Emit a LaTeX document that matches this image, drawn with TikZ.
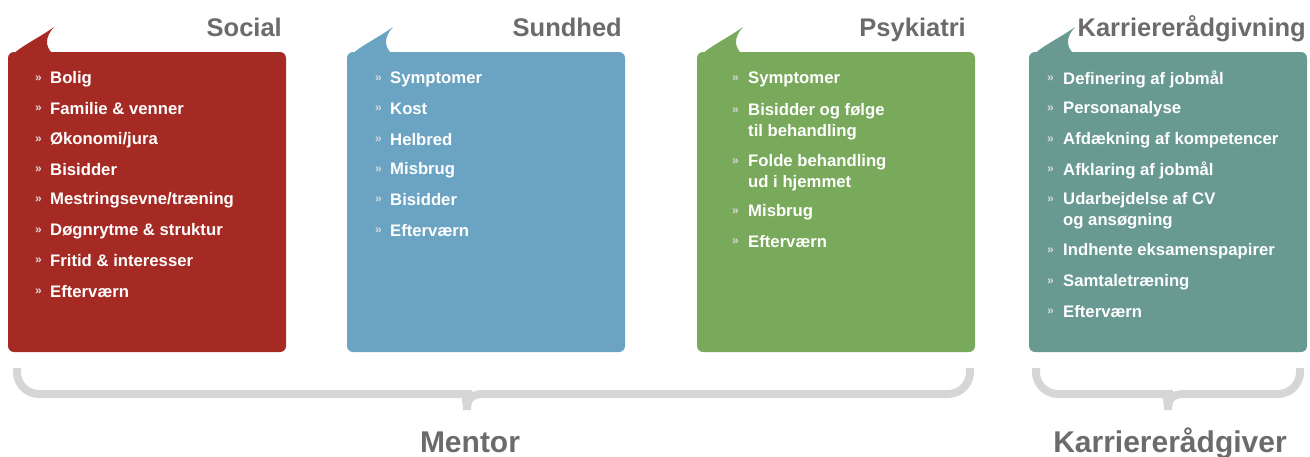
\documentclass[tikz,border=0pt]{standalone}
\usepackage{fontspec}
\setmainfont{Liberation Sans}
\usepackage{xcolor}
\usepackage{tikz}
\usetikzlibrary{positioning}

\definecolor{social}{HTML}{A62A24}
\definecolor{sundhed}{HTML}{6BA4C2}
\definecolor{psyk}{HTML}{79A95A}
\definecolor{karriere}{HTML}{689A92}
\definecolor{titlegrey}{HTML}{6B6B6B}
\definecolor{bracegrey}{HTML}{D6D6D6}

\begin{document}
\begin{tikzpicture}[x=1pt,y=-1pt,
	item/.style={anchor=west,inner sep=0pt,text=white,align=left,font=\bfseries\fontsize{16.7}{21}\selectfont},
	bul/.style={anchor=west,inner sep=0pt,text=white!85!black,font=\bfseries\fontsize{12}{12}\selectfont},
	title/.style={anchor=base east,inner sep=0pt,text=titlegrey,font=\bfseries\fontsize{25.5}{25.5}\selectfont},
	group/.style={anchor=base,inner sep=0pt,text=titlegrey,font=\bfseries\fontsize{30}{30}\selectfont},
	brace/.style={draw=bracegrey,line width=8pt}]
	\useasboundingbox (0,0) rectangle (1310,456);

	% the four speech bubbles
	\foreach \bx/\col in {8/social,347/sundhed,697/psyk,1029/karriere}{
		\begin{scope}[shift={(\bx,52)}]
			\fill[\col,rounded corners=6pt] (0,0) rectangle (278,300);
			\fill[\col] (0,8) .. controls (8,-4) and (28,-12) .. (46,-25) .. controls (37,-15) and (37,-6) .. (44,1) -- cycle;
		\end{scope}
	}

	% titles
	\node[title] (social) at (282,36) {Social};
	\node[title] (sundhed) at (622,36) {Sundhed};
	\node[title] (psyk) at (966,36) {Psykiatri};
	\node[title] (karriere) at (1306,36) {Karriererådgivning};

	% items
	\foreach \y/\txt [count=\i] in {79/Bolig,109/Familie \& venner,140/{Økonomi/jura},170/Bisidder,200/{Mestringsevne/træning},231/Døgnrytme \& struktur,261/Fritid \& interesser,292/Efterværn}{
		\node[bul] (social-b\i) at (35,\y) {»};
		\node[item] (social-\i) at (50,\y) {\txt};
	}
	\foreach \y/\txt [count=\i] in {79/Symptomer,109/Kost,140/Helbred,170/Misbrug,200/Bisidder,231/Efterværn}{
		\node[bul] (sundhed-b\i) at (375,\y) {»};
		\node[item] (sundhed-\i) at (390,\y) {\txt};
	}
	\foreach \y/\dy/\txt [count=\i] in {79/0/Symptomer,111/10.5/{Bisidder og følge\\til behandling},162/10.5/{Folde behandling\\ud i hjemmet},212/0/Misbrug,242/0/Efterværn}{
		\node[bul] (psyk-b\i) at (732,\y) {»};
		\node[item] (psyk-\i) at (748,\y+\dy) {\txt};
	}
	\foreach \y/\dy/\txt [count=\i] in {79/0/Definering af jobmål,109/0/Personanalyse,140/0/Afdækning af kompetencer,170/0/Afklaring af jobmål,200/10.5/{Udarbejdelse af CV\\og ansøgning},251/0/Indhente eksamenspapirer,282/0/Samtaletræning,312/0/Efterværn}{
		\node[bul] (karriere-b\i) at (1047,\y) {»};
		\node[item] (karriere-\i) at (1063,\y+\dy) {\txt};
	}

	% braces
	\coordinate (mentor-tip) at (467,410);
	\coordinate (karr-tip) at (1168,410);
	\draw[brace] (17,368) [rounded corners=22pt] -- (17,394) -- (450,394) [sharp corners] .. controls (462,394) and (467,398) .. (mentor-tip) .. controls (467,398) and (472,394) .. (484,394) [rounded corners=22pt] -- (970,394) -- (970,368);
	\draw[brace] (1036,368) [rounded corners=22pt] -- (1036,394) -- (1151,394) [sharp corners] .. controls (1163,394) and (1168,398) .. (karr-tip) .. controls (1168,398) and (1173,394) .. (1185,394) [rounded corners=22pt] -- (1300,394) -- (1300,368);

	% labels
	\node[group] (mentor) at (470,452) {Mentor};
	\node[group] (karr) at (1170,452) {Karriererådgiver};
\end{tikzpicture}
\end{document}
